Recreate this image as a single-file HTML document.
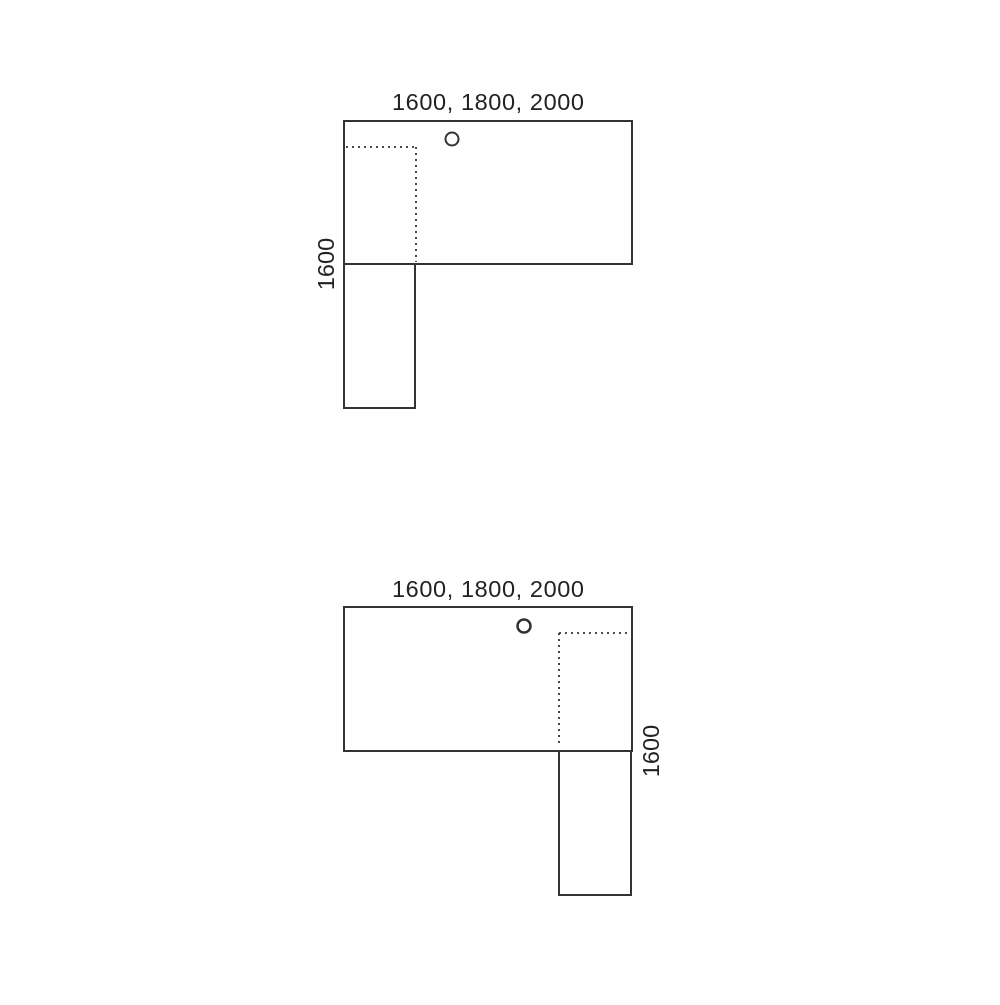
<!DOCTYPE html>
<html><head><style>body{margin:0;background:#fff}</style></head><body>
<svg width="1000" height="1000" xmlns="http://www.w3.org/2000/svg" font-family="Liberation Sans, sans-serif">
<g fill="none" stroke="#333" stroke-width="2">
<rect x="344" y="121" width="288" height="143"/>
<rect x="344" y="264" width="71" height="144"/>
<path d="M346 147H417M416 147V262" stroke-dasharray="2,4" stroke-width="1.8"/>
<circle cx="452" cy="139" r="6.5"/>
<rect x="344" y="607" width="288" height="144"/>
<rect x="559" y="751" width="72" height="144"/>
<path d="M559 633H631M559 633V746" stroke-dasharray="2,4" stroke-width="1.8"/>
<circle cx="524" cy="626" r="6.5" stroke-width="2.5"/>
</g>
<g fill="#222" font-size="23.5" text-anchor="middle">
<text x="488" y="110" textLength="192">1600, 1800, 2000</text>
<text x="488" y="597" textLength="192">1600, 1800, 2000</text>
<text transform="translate(334,264) rotate(-90)">1600</text>
<text transform="translate(659,751) rotate(-90)">1600</text>
</g>
</svg>
</body></html>
